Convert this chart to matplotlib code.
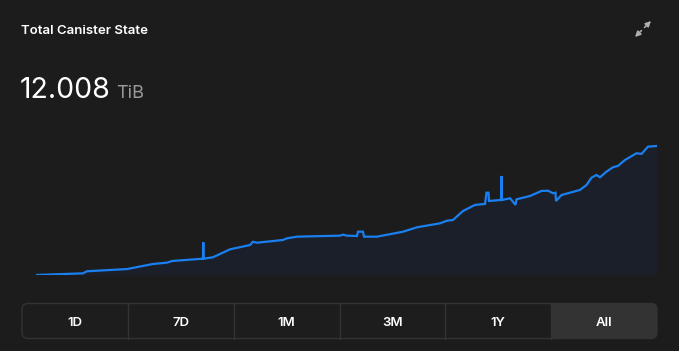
import numpy as np
import matplotlib.pyplot as plt
from matplotlib.patches import FancyBboxPatch, Rectangle

plt.rcParams['font.family'] = ['Inter', 'DejaVu Sans']

# data: days since start / state size in TiB
days = [0, 47, 51, 91, 117, 131, 136, 167, 167.3, 167.6, 177, 194, 214, 217, 221,
        247, 251, 261, 304, 307, 311, 321, 322, 327, 328, 341, 367, 381, 404,
        411, 417, 427, 439, 449, 450.5, 452.5, 453, 465, 465.5, 466, 474, 475.5,
        479.5, 480.5, 494, 505.5, 512, 517, 519.5, 520, 525.5, 544, 550.5, 555.5,
        560.5, 564, 570.5, 577, 582, 589, 600.5, 605.5, 612, 621]
tib = [0.30, 0.45, 0.64, 0.84, 1.30, 1.42, 1.57, 1.78, 3.27, 1.78, 1.91, 2.63,
       3.02, 3.32, 3.23, 3.48, 3.63, 3.78, 3.87, 3.96, 3.87, 3.84, 4.23, 4.23,
       3.78, 3.78, 4.23, 4.63, 4.99, 5.23, 5.29, 6.11, 6.66, 6.75, 7.77, 7.77,
       7.02, 7.11, 9.29, 7.11, 7.26, 7.11, 6.66, 7.17, 7.47, 7.93, 7.95, 7.72,
       7.77, 7.02, 7.56, 8.02, 8.47, 9.13, 9.38, 9.17, 9.68, 10.08, 10.20,
       10.74, 11.35, 11.29, 11.95, 12.008]

ranges = ["1D", "7D", "1M", "3M", "1Y", "All"]
selected = "All"
title = "Total Canister State"
unit = "TiB"

W, H = 679, 351
bg = '#1c1c1c'
fig = plt.figure(figsize=(W / 100, H / 100), dpi=100, facecolor=bg)

# chart
ax = fig.add_axes([36 / W, (H - 275) / H, (657 - 36) / W, (275 - 140) / H])
ax.set_facecolor(bg)
ax.fill_between(days, tib, min(tib), color='#1a1f29', lw=0)
ax.plot(days, tib, color='#1a7ff0', lw=1.6, solid_joinstyle='miter')
ax.set_xlim(min(days), max(days))
ax.set_ylim(min(tib), min(tib) + (max(tib) - min(tib)) * 135 / 129)
ax.axis('off')

# overlay in pixel coords
ov = fig.add_axes([0, 0, 1, 1])
ov.set_xlim(0, W)
ov.set_ylim(H, 0)
ov.axis('off')
ov.patch.set_alpha(0)

ov.text(21, 31.5, title, color='white', fontsize=9.5, fontweight='semibold', va='center', ha='left')
ov.text(20, 91, f"{max(tib):.3f}", color='white', fontsize=20.5, va='center', ha='left')
ov.text(116, 93, unit, color='#9a9a9a', fontsize=13, va='center', ha='left')

# expand icon
for end in [(651, 21), (635, 37)]:
    ov.annotate('', xy=end, xytext=(643, 29),
                arrowprops=dict(arrowstyle='-|>', color='#b0b0b0', lw=1.1,
                                mutation_scale=8, shrinkA=1.5, shrinkB=0))

# range buttons
x0, x1, y0, y1 = 22, 657, 303.5, 338.5
seg = (x1 - x0) / len(ranges)
box = FancyBboxPatch((x0, y0), x1 - x0, y1 - y0, boxstyle='round,pad=0,rounding_size=6',
                     fc='#1d1d1d', ec='#333333', lw=1)
ov.add_patch(box)
for i, r in enumerate(ranges):
    sx = x0 + i * seg
    if r == selected:
        hl = Rectangle((sx, y0), seg, y1 - y0, fc='#333333', ec='none')
        ov.add_patch(hl)
        hl.set_clip_path(box)
    if i > 0:
        ov.plot([sx, sx], [y0, y1], color='#333333', lw=1)
    ov.text(sx + seg / 2, (y0 + y1) / 2 + 1.5, r, color='white', fontsize=9.5,
            fontweight='semibold', ha='center', va='center')

fig.savefig('out.png', dpi=100, facecolor=bg)
